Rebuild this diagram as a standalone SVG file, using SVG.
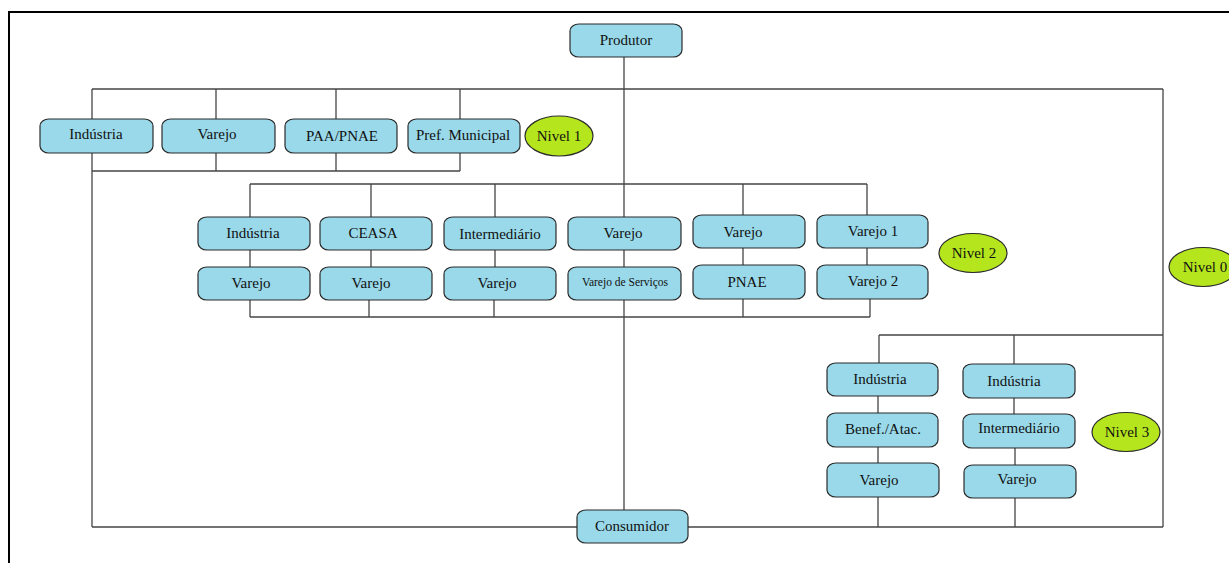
<svg xmlns="http://www.w3.org/2000/svg" width="1229" height="563" viewBox="0 0 1229 563">
<style>
.box{fill:#99D9EA;stroke:#2b2b2b;stroke-width:1.2}
.lvl{fill:#B5E61D;stroke:#2b2b2b;stroke-width:1.2}
.t{font-family:"Liberation Serif","Times New Roman",serif;font-size:15px;fill:#111;text-anchor:middle}
.s{font-size:11.5px}
.c line{stroke:#444;stroke-width:1.3}
.frame{stroke:#000;stroke-width:2;fill:none}
</style>
<rect width="1229" height="563" fill="#fff"/>
<path class="frame" d="M9,563 V12 H1229"/>
<g class="c" id="connectors">
<line x1="624" y1="57" x2="624" y2="217"/>
<line x1="624" y1="250" x2="624" y2="267"/>
<line x1="624" y1="300" x2="624" y2="510"/>
<line x1="92" y1="89" x2="1163" y2="89"/>
<line x1="1163" y1="89" x2="1163" y2="527"/>
<line x1="92" y1="89" x2="92" y2="119"/>
<line x1="92" y1="153" x2="92" y2="527"/>
<line x1="216" y1="89" x2="216" y2="119"/>
<line x1="336" y1="89" x2="336" y2="119"/>
<line x1="460" y1="89" x2="460" y2="119"/>
<line x1="216" y1="153" x2="216" y2="171"/>
<line x1="336" y1="153" x2="336" y2="171"/>
<line x1="460" y1="153" x2="460" y2="171"/>
<line x1="92" y1="171" x2="460" y2="171"/>
<line x1="250" y1="184" x2="867" y2="184"/>
<line x1="250" y1="184" x2="250" y2="217"/>
<line x1="371" y1="184" x2="371" y2="217"/>
<line x1="495" y1="184" x2="495" y2="217"/>
<line x1="743" y1="184" x2="743" y2="215"/>
<line x1="867" y1="184" x2="867" y2="215"/>
<line x1="250" y1="250" x2="250" y2="267"/>
<line x1="371" y1="250" x2="371" y2="267"/>
<line x1="495" y1="250" x2="495" y2="267"/>
<line x1="743" y1="248" x2="743" y2="265"/>
<line x1="867" y1="248" x2="867" y2="265"/>
<line x1="250" y1="300" x2="250" y2="317"/>
<line x1="369" y1="300" x2="369" y2="317"/>
<line x1="494" y1="300" x2="494" y2="317"/>
<line x1="743" y1="299" x2="743" y2="317"/>
<line x1="870" y1="299" x2="870" y2="317"/>
<line x1="250" y1="317" x2="870" y2="317"/>
<line x1="879" y1="335" x2="1163" y2="335"/>
<line x1="879" y1="335" x2="879" y2="363"/>
<line x1="1014" y1="335" x2="1014" y2="364"/>
<line x1="878" y1="396" x2="878" y2="413"/>
<line x1="878" y1="447" x2="878" y2="463"/>
<line x1="1014" y1="398" x2="1014" y2="414"/>
<line x1="1015" y1="448" x2="1015" y2="465"/>
<line x1="878" y1="497" x2="878" y2="527"/>
<line x1="1015" y1="498" x2="1015" y2="527"/>
<line x1="92" y1="527" x2="577" y2="527"/>
<line x1="688" y1="527" x2="1163" y2="527"/>
</g>
<g id="produtor"><rect class="box" x="570" y="24" width="112" height="33" rx="9" ry="7"/><text class="t" x="626" y="45">Produtor</text></g>
<g id="consumidor"><rect class="box" x="577" y="510" width="111" height="33" rx="9" ry="7"/><text class="t" x="632" y="531">Consumidor</text></g>
<g id="n1-industria"><rect class="box" x="40" y="119" width="113" height="34" rx="9" ry="7"/><text class="t" x="96" y="139">Indústria</text></g>
<g id="n1-varejo"><rect class="box" x="162" y="119" width="113" height="34" rx="9" ry="7"/><text class="t" x="217" y="139">Varejo</text></g>
<g id="n1-paa"><rect class="box" x="285" y="119" width="112" height="34" rx="9" ry="7"/><text class="t" x="342" y="141">PAA/PNAE</text></g>
<g id="n1-pref"><rect class="box" x="408" y="119" width="112" height="34" rx="9" ry="7"/><text class="t" x="463" y="140">Pref. Municipal</text></g>
<g id="nivel1"><ellipse class="lvl" cx="559" cy="136" rx="34" ry="20"/><text class="t" x="559" y="141">Nivel 1</text></g>
<g id="n2-industria"><rect class="box" x="198" y="217" width="112" height="33" rx="9" ry="7"/><text class="t" x="253" y="238">Indústria</text></g>
<g id="n2-ceasa"><rect class="box" x="320" y="217" width="112" height="33" rx="9" ry="7"/><text class="t" x="373" y="238">CEASA</text></g>
<g id="n2-intermediario"><rect class="box" x="444" y="217" width="112" height="33" rx="9" ry="7"/><text class="t" x="500" y="239">Intermediário</text></g>
<g id="n2-varejo"><rect class="box" x="568" y="217" width="113" height="33" rx="9" ry="7"/><text class="t" x="623" y="238">Varejo</text></g>
<g id="n2-varejo-b"><rect class="box" x="693" y="215" width="112" height="33" rx="9" ry="7"/><text class="t" x="743" y="237">Varejo</text></g>
<g id="n2-varejo1"><rect class="box" x="817" y="215" width="111" height="33" rx="9" ry="7"/><text class="t" x="873" y="236">Varejo  1</text></g>
<g id="n2-varejo-a1"><rect class="box" x="198" y="267" width="112" height="33" rx="9" ry="7"/><text class="t" x="251" y="288">Varejo</text></g>
<g id="n2-varejo-a2"><rect class="box" x="320" y="267" width="112" height="33" rx="9" ry="7"/><text class="t" x="371" y="288">Varejo</text></g>
<g id="n2-varejo-a3"><rect class="box" x="444" y="267" width="112" height="33" rx="9" ry="7"/><text class="t" x="497" y="288">Varejo</text></g>
<g id="n2-servicos"><rect class="box" x="568" y="267" width="113" height="33" rx="9" ry="7"/><text class="t s" x="625" y="286">Varejo de Serviços</text></g>
<g id="n2-pnae"><rect class="box" x="693" y="265" width="112" height="34" rx="9" ry="7"/><text class="t" x="747" y="287">PNAE</text></g>
<g id="n2-varejo2"><rect class="box" x="817" y="265" width="111" height="34" rx="9" ry="7"/><text class="t" x="873" y="286">Varejo  2</text></g>
<g id="nivel2"><ellipse class="lvl" cx="973" cy="253" rx="34" ry="19.5"/><text class="t" x="974" y="258">Nivel 2</text></g>
<g id="nivel0"><ellipse class="lvl" cx="1203" cy="267" rx="34" ry="19.5"/><text class="t" x="1205" y="272">Nivel 0</text></g>
<g id="n3-industria-a"><rect class="box" x="827" y="363" width="111" height="33" rx="9" ry="7"/><text class="t" x="880" y="384">Indústria</text></g>
<g id="n3-benef"><rect class="box" x="827" y="413" width="111" height="34" rx="9" ry="7"/><text class="t" x="883" y="434">Benef./Atac.</text></g>
<g id="n3-varejo-a"><rect class="box" x="827" y="463" width="112" height="34" rx="9" ry="7"/><text class="t" x="879" y="485">Varejo</text></g>
<g id="n3-industria-b"><rect class="box" x="963" y="364" width="112" height="34" rx="9" ry="7"/><text class="t" x="1014" y="386">Indústria</text></g>
<g id="n3-intermediario"><rect class="box" x="963" y="414" width="112" height="34" rx="9" ry="7"/><text class="t" x="1019" y="433">Intermediário</text></g>
<g id="n3-varejo-b"><rect class="box" x="964" y="465" width="112" height="33" rx="9" ry="7"/><text class="t" x="1017" y="484">Varejo</text></g>
<g id="nivel3"><ellipse class="lvl" cx="1126" cy="432" rx="34" ry="19.5"/><text class="t" x="1127" y="437">Nivel 3</text></g>
</svg>
